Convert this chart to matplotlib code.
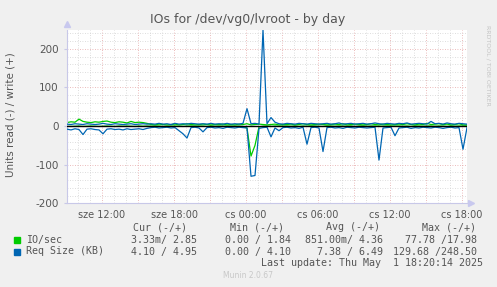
"""Munin style disk IO chart: IOs for /dev/vg0/lvroot - by day."""

import numpy as np
import matplotlib
matplotlib.use("Agg")
import matplotlib.pyplot as plt
from matplotlib.lines import Line2D

plt.rcParams["axes.unicode_minus"] = False

W, H = 497, 287
DPI = 100

# ── Data (20 min samples, read values plotted below zero) ────────────────────
START_H = 9.08          # hours since Wed 00:00 at the left edge
STEP_H = 1 / 3

io_write = [9, 11, 10, 17.98, 12, 10, 9, 11, 10, 12, 13, 10, 9, 11, 10, 8, 12, 9, 10, 9, 7,
            4, 3, 5, 4, 3, 4, 5, 3, 4, 6, 4, 3, 4, 5, 4, 3, 4, 4, 5, 3,
            4, 3, 5, 4, 6, 3, 4, 5, 4, 3,
            4, 5, 3, 4, 4, 5, 3, 4, 6, 4,
            3, 4, 5, 4, 3, 4, 5, 4, 6, 3,
            4, 5, 4, 3, 4, 6, 4, 3, 5, 4,
            3, 4, 5, 4, 6, 4, 3, 5, 4, 7,
            4, 5, 6, 4, 5, 3, 4, 6, 3, 2.85]
io_read = [0.5, 1, 0.5, 0, 1, 0.5, 0, 0.5, 1, 0.5, 0, 0.5, 1, 0, 0.5, 0, 0.5, 1, 0, 0.5, 0,
           0.5, 0, 0, 1, 0.5, 0, 0, 0.5, 1, 0, 0, 0.5, 0, 0, 1, 0, 0.5, 0, 0, 0.5,
           0, 0.5, 0, 1, 5, 77.78, 50, 2, 0.5, 0,
           1, 0, 0.5, 0, 0, 0.5, 0, 1, 0, 0.5,
           0, 0, 0.5, 1, 0, 0, 0.5, 0, 0, 0.5,
           0, 1, 0, 0, 0.5, 0, 0, 1, 0, 0,
           0.5, 0, 0, 0.5, 0, 1, 0, 0, 0.5, 0,
           0, 0.5, 0, 0, 1, 0, 0.5, 0, 0, 0.00333]
req_write = [5, 4, 6, 5, 4, 6, 5, 4, 5, 7, 5, 4, 6, 5, 4, 5, 6, 4, 5, 6, 5,
             6, 5, 7, 5, 6, 4, 7, 5, 6, 5, 7, 6, 5, 6, 5, 7, 5, 6, 5, 7,
             5, 6, 5, 7, 45, 6, 7, 5, 248.5, 6,
             22, 10, 6, 5, 7, 6, 5, 7, 6, 5,
             7, 6, 5, 6, 7, 5, 6, 8, 5, 6,
             7, 5, 6, 7, 5, 6, 8, 6, 5, 7,
             6, 5, 7, 6, 8, 5, 6, 7, 6, 5,
             12, 6, 7, 5, 8, 6, 5, 7, 6, 4.95]
req_read = [8, 10, 7, 9, 22, 8, 7, 9, 10, 20, 8, 7, 9, 8, 10, 7, 9, 8, 7, 9, 6,
            4, 3, 5, 4, 3, 5, 4, 12, 20, 31, 4, 3, 5, 15, 4, 3, 5, 4, 6, 3,
            4, 5, 3, 4, 5, 130, 128, 6, 4, 3,
            28, 5, 12, 4, 3, 5, 4, 6, 3, 47,
            4, 3, 5, 66, 4, 3, 5, 4, 6, 3,
            4, 5, 3, 4, 5, 4, 3, 88, 5, 4,
            3, 25, 5, 4, 3, 6, 4, 5, 3, 4,
            5, 3, 4, 6, 4, 3, 5, 4, 60, 4.10]

x_ticks = [12, 18, 24, 30, 36, 42]
x_labels = ["sze 12:00", "sze 18:00", "cs 00:00", "cs 06:00", "cs 12:00", "cs 18:00"]
y_ticks = [-200, -100, 0, 100, 200]

legend_rows = [
    ("IO/sec", "3.33m/ 2.85", "0.00 / 1.84", "851.00m/ 4.36", "77.78 /17.98"),
    ("Req Size (KB)", "4.10 / 4.95", "0.00 / 4.10", "7.38 / 6.49", "129.68 /248.50"),
]

GREEN = "#00cc00"
BLUE = "#0066b3"
TEXT = "#555555"

t = START_H + STEP_H * np.arange(len(io_write))

# ── Figure ───────────────────────────────────────────────────────────────────
def fx(px):
    return px / W

def fy(py):
    return 1 - py / H

fig = plt.figure(figsize=(W / DPI, H / DPI), dpi=DPI, facecolor="#f0f0f0")
L, R, T, B = 67, 467, 29.5, 203.3
ax = fig.add_axes([fx(L), fy(B), (R - L) / W, (B - T) / H])
ax.set_facecolor("white")
ax.set_xlim(START_H, START_H + (R - L) / 12)
ax.set_ylim(-200, 250)

# grid drawn by hand: grey dotted minor, red dotted major
for h in range(10, 43):
    major = h % 3 == 0
    ax.axvline(h, color="#e5a5a5" if major else "#d2d2d2", lw=0.6,
               ls=(0, (1, 2)), zorder=0)
for v in range(-180, 250, 20):
    major = v % 100 == 0
    ax.axhline(v, color="#e5a5a5" if major else "#d2d2d2", lw=0.6,
               ls=(0, (1, 2)), zorder=0)

ax.plot(t, io_write, color=GREEN, lw=0.9, zorder=2)
ax.plot(t, -np.array(io_read), color=GREEN, lw=0.9, zorder=2)
ax.plot(t, req_write, color=BLUE, lw=0.9, zorder=3)
ax.plot(t, -np.array(req_read), color=BLUE, lw=0.9, zorder=3)
ax.axhline(0, color="black", lw=1.0, zorder=4)

ax.set_xticks(x_ticks)
ax.set_xticklabels(x_labels)
ax.set_yticks(y_ticks)
ax.tick_params(axis="x", length=0, pad=5, labelsize=7, labelcolor=TEXT)
ax.tick_params(axis="y", length=2, pad=4, labelsize=7.5, labelcolor=TEXT, color="#c8c8e8")
for s in ("top", "right"):
    ax.spines[s].set_visible(False)
for s in ("left", "bottom"):
    ax.spines[s].set_color("#c8c8e8")
    ax.spines[s].set_linewidth(0.8)

# axis arrow heads
fig.add_artist(Line2D([fx(L)], [fy(24)], marker="^", ms=4, color="#c8c8ee", lw=0))
fig.add_artist(Line2D([fx(471)], [fy(B)], marker=">", ms=4, color="#c8c8ee", lw=0))

fig.text(fx(248), fy(19), "IOs for /dev/vg0/lvroot - by day", ha="center",
         va="center", fontsize=9, color=TEXT)
fig.text(fx(11), fy(115), "Units read (-) / write (+)", rotation=90,
         ha="center", va="center", fontsize=7.5, color=TEXT)
fig.text(fx(488), fy(65), "RRDTOOL / TOBI OETIKER", rotation=270, ha="center",
         va="center", fontsize=4.5, color="#c4c4c4")

# ── Legend block ─────────────────────────────────────────────────────────────
mono = dict(family="DejaVu Sans Mono", fontsize=7.2, color=TEXT, va="center")
col_right = [197, 291, 383, 477]
head_right = [187, 284, 380, 476]
for xr, h in zip(head_right, ["Cur (-/+)", "Min (-/+)", "Avg (-/+)", "Max (-/+)"]):
    fig.text(fx(xr), fy(227), h, ha="right", **mono)
for row_y, color, row in zip([239.5, 251.5], [GREEN, BLUE], legend_rows):
    fig.add_artist(plt.Rectangle((fx(14), fy(row_y + 3)), 5.5 / W, 5.5 / H,
                                 transform=fig.transFigure, color=color))
    fig.text(fx(26), fy(row_y), row[0], ha="left", **mono)
    for xr, val in zip(col_right, row[1:]):
        fig.text(fx(xr), fy(row_y), val, ha="right", **mono)
fig.text(fx(483), fy(263.5), "Last update: Thu May  1 18:20:14 2025", ha="right", **mono)
fig.text(fx(248), fy(276), "Munin 2.0.67", ha="center", va="center",
         fontsize=5.5, color="#c8c8c8")

fig.savefig("out.png", dpi=DPI, facecolor=fig.get_facecolor())
